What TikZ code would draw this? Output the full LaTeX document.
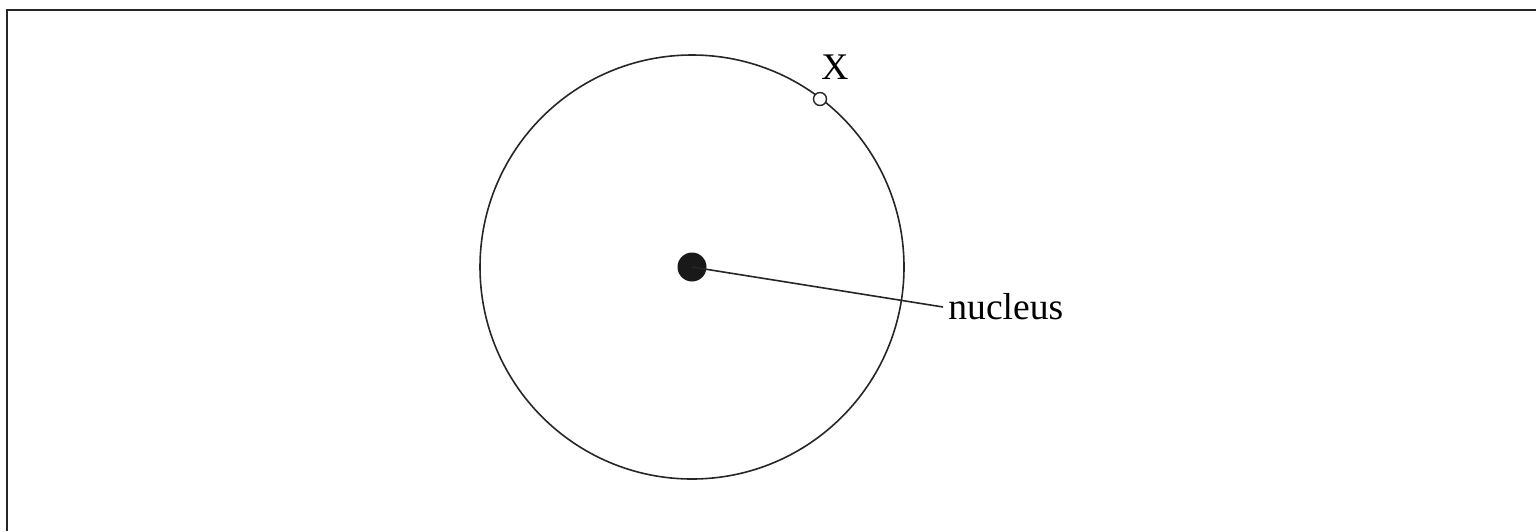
\documentclass[tikz,border=0pt]{standalone}
\usepackage{fontspec}
\setmainfont{Liberation Serif}
\begin{document}
\begin{tikzpicture}[x=0.5pt,y=-0.5pt,
  frame/.style={line width=1pt,draw=black!85},
  orbit/.style={line width=0.8pt,draw=black!85},
  lbl/.style={font=\fontsize{18.8}{22}\selectfont,inner sep=0pt},
  nuc/.style={circle,fill=black!90,draw=none,minimum size=14.5pt,inner sep=0pt},
  elec/.style={circle,fill=white,draw=black!85,line width=0.7pt,minimum size=6.5pt,inner sep=0pt}]
\useasboundingbox (0,0) rectangle (1536,531);
\draw[frame] (1536,9.5) -- (6.5,9.5) -- (6.5,531);
\coordinate (c) at (692,267);
\draw[orbit] (c) circle[radius=212];
\node[nuc] (n) at (c) {};
\node[elec] (e) at (820,99) {};
\node[lbl] (x) at (835,67) {X};
\node[lbl,anchor=west,inner xsep=2.5pt] (lab) at (943,307) {nucleus};
\draw[orbit] (n.center) -- (lab.west);
\end{tikzpicture}
\end{document}
